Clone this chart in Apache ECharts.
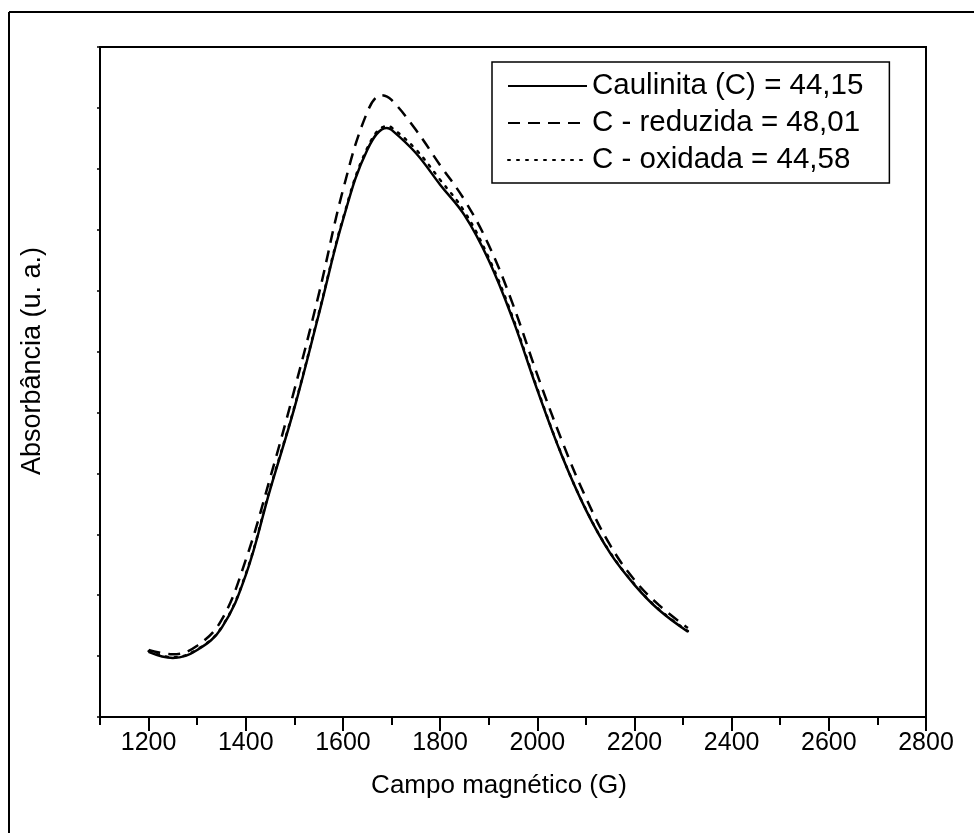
<!DOCTYPE html>
<html>
<head>
<meta charset="utf-8">
<script src="https://cdn.jsdelivr.net/npm/echarts@6/dist/echarts.min.js"></script>
<style>html,body{margin:0;padding:0;background:#fff}#c{width:974px;height:833px}</style>
</head>
<body>
<div id="c"></div>
<script>
const fieldG = [1200,1250,1300,1350,1400,1450,1500,1550,1600,1650,1690,1700,1750,1800,1850,1900,1950,2000,2050,2100,2150,2200,2250,2310];
const caulinita = [1.07,0.97,1.10,1.46,2.33,3.73,5.07,6.60,8.16,9.31,9.67,9.64,9.26,8.74,8.24,7.50,6.52,5.37,4.30,3.40,2.69,2.17,1.76,1.40];
const reduzidaX = [1200,1250,1300,1350,1400,1450,1500,1550,1600,1650,1680,1700,1750,1800,1850,1900,1950,2000,2050,2100,2150,2200,2250,2310];
const reduzida = [1.10,1.03,1.17,1.59,2.58,3.92,5.37,6.93,8.65,9.93,10.21,10.13,9.64,9.06,8.49,7.75,6.77,5.62,4.55,3.60,2.82,2.25,1.84,1.46];
const oxidada = [1.08,0.98,1.11,1.47,2.35,3.75,5.09,6.62,8.18,9.34,9.70,9.68,9.32,8.82,8.30,7.54,6.55,5.39,4.31,3.41,2.70,2.18,1.77,1.41];
const seriesNames = ['Caulinita (C) = 44,15','C - reduzida = 48,01','C - oxidada = 44,58'];
const majorTicks = [1200,1400,1600,1800,2000,2200,2400,2600,2800];
const minorTicks = [1100,1300,1500,1700,1900,2100,2300,2500,2700];
const xTitle = 'Campo magnético (G)';
const yTitle = 'Absorbância (u. a.)';

const pair = (xs, ys) => xs.map((x, i) => [x, ys[i]]);
const font = 'Liberation Sans, Arial, sans-serif';
const chart = echarts.init(document.getElementById('c'), null, {renderer: 'canvas'});
chart.setOption({
  animation: false,
  backgroundColor: '#fff',
  grid: {left: 100, top: 47, right: 48, bottom: 116, show: true, borderColor: '#000', borderWidth: 2, backgroundColor: 'transparent'},
  legend: {
    show: true, orient: 'vertical', left: 492, top: 62,
    borderColor: '#000', borderWidth: 1.5, padding: [9, 26, 8, 15],
    itemWidth: 79, itemHeight: 30, itemGap: 7,
    itemStyle: {opacity: 0, borderWidth: 0},
    textStyle: {fontSize: 29.5, fontFamily: font, color: '#000'},
    data: seriesNames
  },
  xAxis: [{
    type: 'value', min: 1100, max: 2800, position: 'bottom',
    axisLine: {show: true, lineStyle: {color: '#000', width: 2}},
    axisTick: {show: true, length: 14, customValues: majorTicks, lineStyle: {color: '#000', width: 2}},
    axisLabel: {show: true, customValues: majorTicks, formatter: v => String(v), fontSize: 25, fontFamily: font, color: '#000', margin: 14},
    splitLine: {show: false}
  }, {
    type: 'value', min: 1100, max: 2800, position: 'bottom', gridIndex: 0,
    axisLine: {show: false},
    axisTick: {show: true, length: 8, customValues: minorTicks, lineStyle: {color: '#000', width: 2}},
    axisLabel: {show: false},
    splitLine: {show: false}
  }],
  yAxis: {
    type: 'value', min: 0, max: 11, interval: 1,
    axisLine: {show: true, lineStyle: {color: '#000', width: 2}},
    axisTick: {show: true, length: 3, lineStyle: {color: '#000', width: 1.5}},
    axisLabel: {show: false},
    splitLine: {show: false}
  },
  graphic: [
    {type: 'line', shape: {x1: 9, y1: 12, x2: 974, y2: 12}, style: {stroke: '#000', lineWidth: 2}},
    {type: 'line', shape: {x1: 9, y1: 12, x2: 9, y2: 833}, style: {stroke: '#000', lineWidth: 2}},
    {type: 'text', x: 499, y: 786, style: {text: xTitle, font: '26px ' + font, fill: '#000', textAlign: 'center', textVerticalAlign: 'middle'}},
    {type: 'text', x: 33, y: 361, rotation: Math.PI / 2, style: {text: yTitle, font: '27px ' + font, fill: '#000', textAlign: 'center', textVerticalAlign: 'middle'}}
  ],
  series: [
    {name: seriesNames[0], type: 'line', smooth: 0.4, symbol: 'none', data: pair(fieldG, caulinita),
     lineStyle: {color: '#000', width: 2.5, type: 'solid'}, itemStyle: {color: '#000'}, z: 3},
    {name: seriesNames[1], type: 'line', smooth: 0.4, symbol: 'none', data: pair(reduzidaX, reduzida),
     lineStyle: {color: '#000', width: 2.5, type: [12, 8]}, itemStyle: {color: '#000'}, z: 2},
    {name: seriesNames[2], type: 'line', smooth: 0.4, symbol: 'none', data: pair(fieldG, oxidada),
     lineStyle: {color: '#000', width: 2.5, type: [2, 7], cap: 'round'}, itemStyle: {color: '#000'}, z: 4}
  ]
});
</script>
</body>
</html>
